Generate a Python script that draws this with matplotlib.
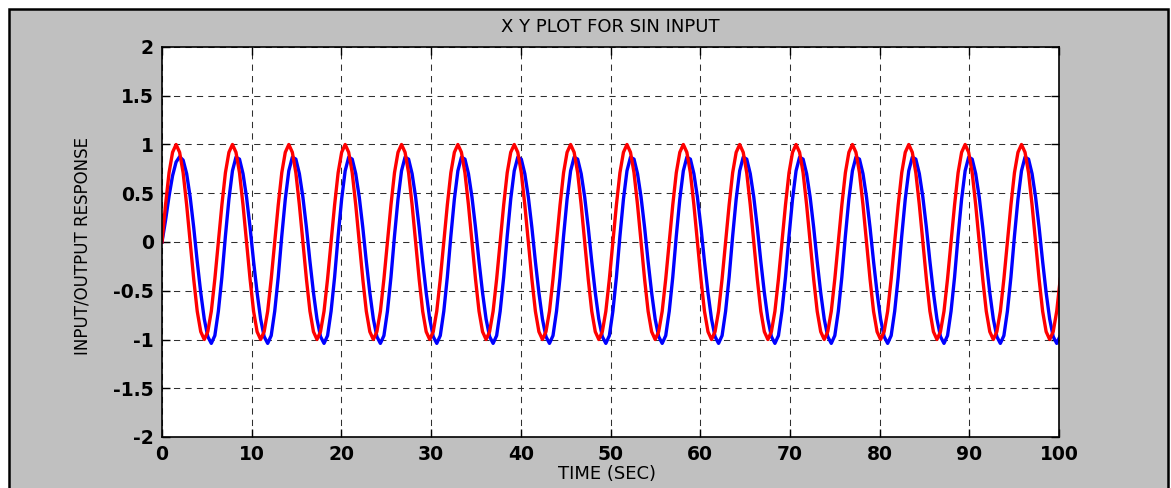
import numpy as np
import matplotlib
matplotlib.use("Agg")
import matplotlib.pyplot as plt
from matplotlib.patches import Rectangle

# simulation step (16 samples per input period)
STEP = 0.3927
N_CYCLES = 16

# one period of the sin input
red_cycle = [0.0, 0.38, 0.71, 0.92, 1.0, 0.92, 0.71, 0.38,
             0.0, -0.38, -0.71, -0.92, -1.0, -0.92, -0.71, -0.38]
# one steady period of the response (blue curve), same sample points
blue_cycle = [-0.71, -0.36, 0.06, 0.44, 0.73, 0.87, 0.85, 0.70,
              0.46, 0.15, -0.20, -0.52, -0.79, -0.97, -1.04, -0.96]
# first half period of the response, before it settles
blue_start = [0.0, 0.22, 0.47, 0.68, 0.82, 0.875, 0.84, 0.70]

x_ticks = [0, 10, 20, 30, 40, 50, 60, 70, 80, 90, 100]
y_ticks = [-2, -1.5, -1, -0.5, 0, 0.5, 1, 1.5, 2]
y_tick_labels = ["-2", "-1.5", "-1", "-0.5", "0", "0.5", "1", "1.5", "2"]

red = red_cycle * N_CYCLES
blue = blue_start + (blue_cycle * N_CYCLES)[len(blue_start):]
time = np.arange(len(red)) * STEP

plt.rcParams['font.family'] = ['DejaVu Sans']

fig = plt.figure(figsize=(11.71, 4.88), dpi=100, facecolor='white')
fig.patches.append(Rectangle((9 / 1171, -0.02), 1159 / 1171, 479 / 488 + 0.02,
                             transform=fig.transFigure, facecolor='#c0c0c0',
                             edgecolor='black', linewidth=1.8, zorder=-10))

ax = fig.add_axes([162 / 1171, 51 / 488, 897 / 1171, 390 / 488])
ax.set_facecolor('white')

ax.plot(time, blue, color='#0000ff', linewidth=2.4)
ax.plot(time, red, color='#ff0000', linewidth=2.4)

ax.set_xlim(0, 100)
ax.set_ylim(-2, 2)
ax.set_xticks(x_ticks)
ax.set_yticks(y_ticks)
ax.set_yticklabels(y_tick_labels)
ax.grid(True, color='#303030', linestyle=(0, (6, 5)), linewidth=0.75)
ax.tick_params(direction='in', length=6, width=1, top=True, right=True,
               labelsize=13.5, pad=6)
for lab in ax.get_xticklabels() + ax.get_yticklabels():
    lab.set_fontweight('bold')
for sp in ax.spines.values():
    sp.set_linewidth(1.2)

ax.set_xlabel("TIME (SEC)", fontsize=13, va='center')
ax.xaxis.set_label_coords(0.496, -0.094)
ax.set_ylabel("INPUT/OUTPUT RESPONSE", fontsize=12, va='center')
ax.yaxis.set_label_coords(-0.0886, 0.49)

fig.text(610.5 / 1171, (488 - 27) / 488, "X Y PLOT FOR SIN INPUT",
         ha='center', va='center', fontsize=13)

fig.savefig("out.png", dpi=100, facecolor=fig.get_facecolor())
